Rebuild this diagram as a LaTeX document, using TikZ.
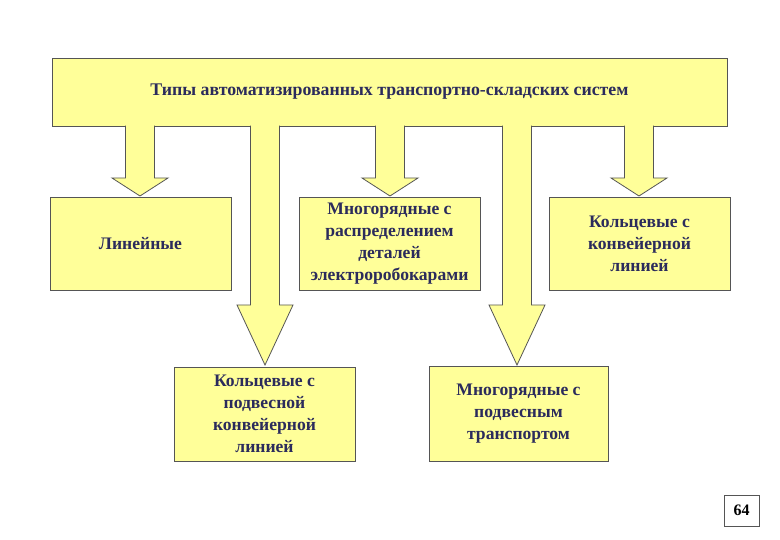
\documentclass[tikz,border=0pt]{standalone}
\usepackage{fontspec}
\setmainfont{Liberation Serif}
\definecolor{byel}{HTML}{FFFF99}
\definecolor{txt}{HTML}{2B2B5C}
\definecolor{edge}{HTML}{555555}
\begin{document}
\begin{tikzpicture}[x=1pt,y=-1pt,
  box/.style={draw=edge,fill=byel,line width=0.8pt,font=\bfseries\fontsize{17.6}{22}\selectfont,text=txt,align=center},
  barrow/.style={draw=edge,fill=byel,line width=0.8pt,line join=miter}]
\useasboundingbox[fill=white] (0,0) rectangle (780,540);
\node[box,minimum width=675,minimum height=68,font=\bfseries\fontsize{17.8}{22}\selectfont] (top) at (389.5,92) {Типы автоматизированных транспортно-складских систем};
\node[box,minimum width=181,minimum height=93] (a) at (140.5,243.5) {Линейные};
\node[box,minimum width=181,minimum height=93] (b) at (389.5,243.5) {Многорядные с\\распределением\\деталей\\электроробокарами};
\node[box,minimum width=181,minimum height=93] (c) at (639.5,243.5) {Кольцевые с\\конвейерной\\линией};
\node[box,minimum width=181,minimum height=94] (d) at (264.5,414) {Кольцевые с\\подвесной\\конвейерной\\линией};
\node[box,minimum width=179,minimum height=95] (e) at (518.5,413.5) {Многорядные с\\подвесным\\транспортом};
\node[draw=edge,line width=0.8pt,fill=white,minimum width=35,minimum height=31,font=\bfseries\fontsize{16}{18}\selectfont] (pg) at (741.5,510.5) {64};
\foreach \cx/\sy/\ty in {140/178/196, 265/305/365, 390/178/196, 517/305/365, 639/178/196}{
  \draw[barrow] (\cx-14.5,125.6) -- (\cx-14.5,\sy) -- (\cx-28,\sy) -- (\cx,\ty) -- (\cx+28,\sy) -- (\cx+14.5,\sy) -- (\cx+14.5,125.6);
}
\end{tikzpicture}
\end{document}
